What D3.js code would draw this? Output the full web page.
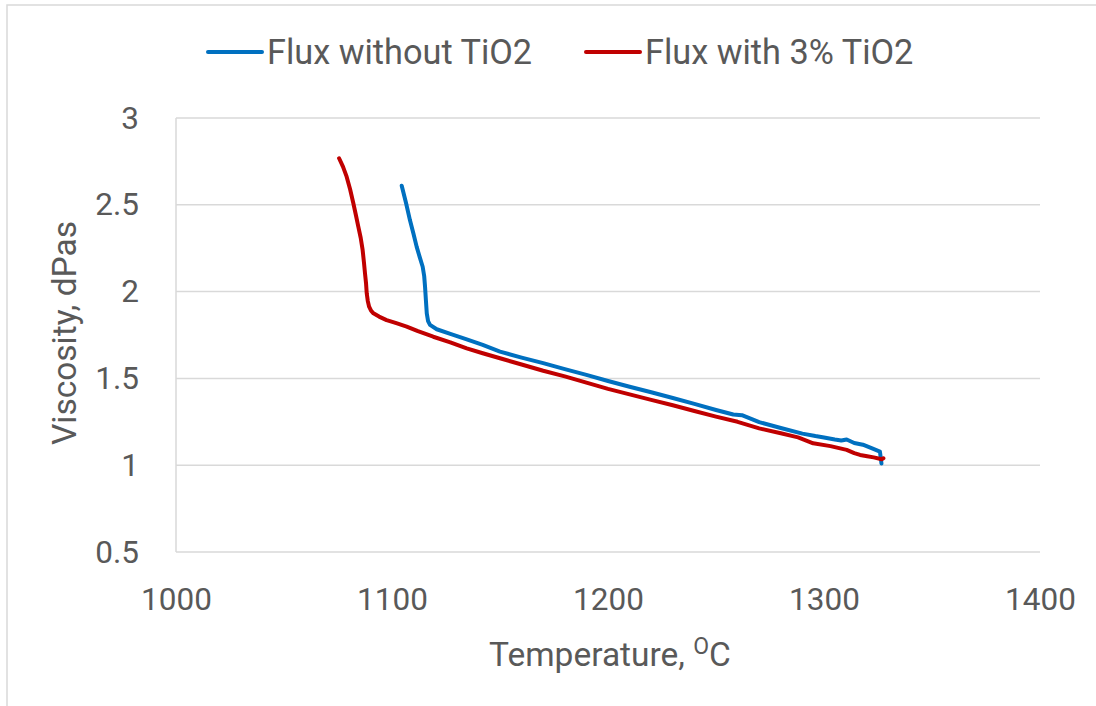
<!DOCTYPE html>
<html>
<head>
  <style>
    body { margin: 0; background: #fff; }
    text { font-family: Roboto, "Noto Sans", sans-serif; fill: #595959; }
  </style>
</head>
<body>
  <svg id="chart" width="1096" height="706"></svg>

  <script src="https://d3js.org/d3.v7.min.js"></script>
  <script>
    // Flux without TiO2 (temperature C, viscosity dPas)
    const tempNoTi = [1104.5, 1106.5, 1108.3, 1110, 1111.4, 1112.8, 1114.2, 1114.9, 1115.3, 1115.7, 1116.1, 1116.7, 1117.6, 1120.7, 1127, 1134.6, 1142, 1150, 1160, 1170, 1180, 1190, 1200, 1210, 1220, 1230, 1240, 1250, 1258, 1262, 1270, 1280, 1290, 1296, 1300, 1305, 1308, 1310.5, 1314, 1318, 1322, 1325.9, 1326.3, 1326.6];
    const viscNoTi = [2.61, 2.51, 2.412, 2.33, 2.259, 2.2, 2.143, 2.09, 2.028, 1.95, 1.875, 1.83, 1.808, 1.783, 1.757, 1.725, 1.693, 1.654, 1.62, 1.588, 1.553, 1.52, 1.485, 1.452, 1.42, 1.387, 1.353, 1.318, 1.292, 1.288, 1.248, 1.214, 1.182, 1.168, 1.16, 1.148, 1.142, 1.148, 1.128, 1.118, 1.098, 1.078, 1.04, 1.01];

    // Flux with 3% TiO2
    const tempTi3 = [1075.5, 1077.3, 1079, 1080.6, 1082.1, 1083.3, 1084.4, 1085.5, 1086.4, 1087, 1087.5, 1088, 1088.3, 1088.8, 1089.4, 1090.3, 1091.4, 1094, 1097.5, 1102, 1106.8, 1112, 1119.1, 1127, 1134.6, 1142, 1150, 1160, 1170, 1180, 1190, 1200, 1210, 1220, 1230, 1240, 1250, 1260, 1270, 1280, 1288, 1295, 1303, 1310.5, 1314, 1316.7, 1320, 1323, 1326.7, 1327.5];
    const viscTi3 = [2.768, 2.72, 2.662, 2.59, 2.509, 2.44, 2.374, 2.31, 2.24, 2.17, 2.105, 2.045, 1.99, 1.945, 1.913, 1.89, 1.875, 1.856, 1.836, 1.818, 1.798, 1.772, 1.74, 1.708, 1.673, 1.645, 1.616, 1.58, 1.544, 1.512, 1.476, 1.44, 1.408, 1.376, 1.345, 1.312, 1.28, 1.25, 1.212, 1.184, 1.16, 1.126, 1.11, 1.088, 1.07, 1.059, 1.052, 1.045, 1.034, 1.04];

    const xTicks = [1000, 1100, 1200, 1300, 1400];
    const yTicks = [0.5, 1, 1.5, 2, 2.5, 3];
    const seriesNames = ['Flux without TiO2', 'Flux with 3% TiO2'];
    const seriesColors = ['#0070C0', '#C00000'];

    const series = [
      tempNoTi.map((t, i) => [t, viscNoTi[i]]),
      tempTi3.map((t, i) => [t, viscTi3[i]])
    ];

    const svg = d3.select('#chart');
    const plot = { left: 176, right: 1040, top: 118, bottom: 552 };

    // chart area border
    svg.append('rect')
      .attr('x', 7).attr('y', 5)
      .attr('width', 1100).attr('height', 720)
      .attr('fill', 'none')
      .attr('stroke', '#d9d9d9')
      .attr('stroke-width', 1.5);

    const x = d3.scaleLinear().domain([1000, 1400]).range([plot.left, plot.right]);
    const y = d3.scaleLinear().domain([0.5, 3]).range([plot.bottom, plot.top]);

    // gridlines
    svg.append('g')
      .selectAll('line')
      .data(yTicks)
      .join('line')
      .attr('x1', plot.left).attr('x2', plot.right)
      .attr('y1', d => y(d)).attr('y2', d => y(d))
      .attr('stroke', '#d9d9d9')
      .attr('stroke-width', 1.5);

    // left axis line
    svg.append('line')
      .attr('x1', plot.left).attr('x2', plot.left)
      .attr('y1', plot.top).attr('y2', plot.bottom)
      .attr('stroke', '#d9d9d9')
      .attr('stroke-width', 1.5);

    // y tick labels
    const yAxis = d3.axisLeft(y).tickValues(yTicks).tickSize(0).tickPadding(37).tickFormat(d3.format('~g'));
    svg.append('g')
      .attr('transform', `translate(${plot.left},0)`)
      .call(yAxis)
      .call(g => g.select('.domain').remove())
      .selectAll('text')
      .attr('font-family', null)
      .attr('font-size', 31.5)
      .attr('fill', null);

    // x tick labels
    const xAxis = d3.axisBottom(x).tickValues(xTicks).tickSize(0).tickPadding(36).tickFormat(d3.format('d'));
    svg.append('g')
      .attr('transform', `translate(0,${plot.bottom})`)
      .call(xAxis)
      .call(g => g.select('.domain').remove())
      .selectAll('text')
      .attr('font-family', null)
      .attr('font-size', 31.5)
      .attr('fill', null);

    // series lines
    const line = d3.line().x(d => x(d[0])).y(d => y(d[1]));
    svg.append('g')
      .selectAll('path')
      .data(series)
      .join('path')
      .attr('d', line)
      .attr('fill', 'none')
      .attr('stroke', (d, i) => seriesColors[i])
      .attr('stroke-width', 4)
      .attr('stroke-linejoin', 'round')
      .attr('stroke-linecap', 'round');

    // axis titles
    const xTitle = svg.append('text')
      .attr('x', 610).attr('y', 666)
      .attr('text-anchor', 'middle')
      .attr('font-size', 33.5);
    xTitle.append('tspan').text('Temperature, ');
    xTitle.append('tspan').attr('font-size', 23).attr('dy', -12).text('O');
    xTitle.append('tspan').attr('dy', 12).text('C');

    svg.append('text')
      .attr('transform', `translate(76,333) rotate(-90)`)
      .attr('text-anchor', 'middle')
      .attr('font-size', 33.5)
      .text('Viscosity, dPas');

    // legend
    const legendX = [208, 586];
    const legend = svg.append('g')
      .selectAll('g')
      .data(seriesNames)
      .join('g')
      .attr('transform', (d, i) => `translate(${legendX[i]},52)`);
    legend.append('line')
      .attr('x1', 0).attr('x2', 54)
      .attr('stroke', (d, i) => seriesColors[i])
      .attr('stroke-width', 4)
      .attr('stroke-linecap', 'round');
    legend.append('text')
      .attr('x', 59).attr('y', 11.5)
      .attr('font-size', 34.3)
      .text(d => d);
  </script>
</body>
</html>
